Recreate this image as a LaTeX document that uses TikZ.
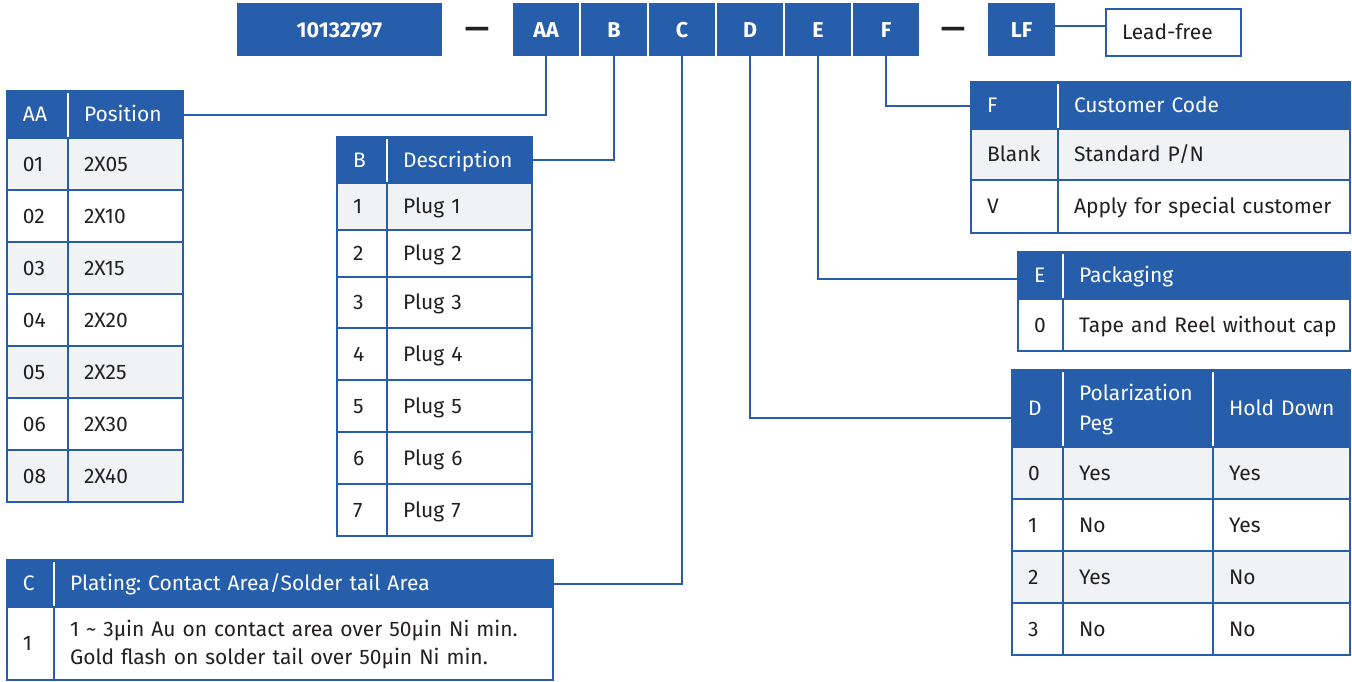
\documentclass[tikz,border=0pt]{standalone}
\usepackage{fontspec}
\setmainfont{Fira Sans}
\usepackage{tikz}
\usetikzlibrary{positioning}
\definecolor{pnblue}{RGB}{38,94,171}
\definecolor{rowgray}{RGB}{241,242,244}
\definecolor{inkgray}{RGB}{35,31,32}
\newcommand{\tabfont}{\fontsize{21}{28}\selectfont\frenchspacing}
\newcommand{\codefont}{\fontsize{21.5}{24}\selectfont\bfseries}

\begin{document}
\begin{tikzpicture}[
    x=1pt, y=-1pt,
    cell/.style={draw=pnblue, line width=2pt, anchor=north west, outer sep=0pt,
                 inner xsep=16pt, inner ysep=0pt, align=left, font=\tabfont,
                 text=inkgray, text height=14.5pt, text depth=0pt},
    head/.style={cell, fill=pnblue, text=white},
    sz/.code 2 args={\pgfmathsetlengthmacro\cellw{#1-32}%
        \edef\cellnext{\noexpand\pgfkeysalso{text width=\cellw, minimum height=#2pt}}\cellnext},
    codebox/.style={fill=pnblue, text=white, font=\codefont, anchor=north west,
                    outer sep=0pt, inner sep=0pt, minimum width=66pt, minimum height=53pt,
                    text height=15pt, text depth=0pt},
    dashmark/.style={font=\fontsize{30}{30}\selectfont\bfseries, text=inkgray,
                     inner sep=0pt, anchor=base},
    sep/.style={draw=white, line width=2pt},
    link/.style={draw=pnblue, line width=2pt}
]
    \useasboundingbox (0,0) rectangle (1352,681);

    % part number bar
    \node[codebox, minimum width=205pt] (pn) at (237,3) {10132797};
    \node[dashmark] (dashA) at (477,38.5) {—};
    \node[codebox] (aa) at (513,3) {AA};
    \node[codebox, right=2pt of aa] (b) {B};
    \node[codebox, right=2pt of b] (c) {C};
    \node[codebox, right=2pt of c] (d) {D};
    \node[codebox, right=2pt of d] (e) {E};
    \node[codebox, right=2pt of e] (f) {F};
    \node[dashmark] (dashB) at (953,38.5) {—};
    \node[codebox, minimum width=67pt] (lf) at (988,3) {LF};
    \node[cell, sz={135}{47}] (leadfree) at (1106,9) {\mbox{Lead-free}};

    % AA: position
    \node[head, sz={61}{47}] (aaCode) at (7,91) {AA};
    \node[head, sz={115}{47}] (aaName) at (68,91) {\mbox{Position}};
    \draw[sep] ([yshift=-2pt]aaName.north west) -- (aaName.south west);
    \foreach \code/\pos/\shade [count=\i from 0] in {01/2X05/rowgray, 02/2X10/white,
        03/2X15/rowgray, 04/2X20/white, 05/2X25/rowgray, 06/2X30/white, 08/2X40/rowgray}{
        \node[cell, fill=\shade, sz={61}{52}] (aa\code) at (7,{138+52*\i}) {\code};
        \node[cell, fill=\shade, sz={115}{52}] (aaPos\code) at (68,{138+52*\i}) {\pos};
    }

    % B: description
    \node[head, sz={50}{46}] (bCode) at (337,137) {B};
    \node[head, sz={145}{46}] (bName) at (387,137) {\mbox{Description}};
    \draw[sep] ([yshift=-2pt]bName.north west) -- (bName.south west);
    \foreach \n/\y/\h/\shade in {1/183/47/rowgray, 2/230/47/white, 3/277/51/white,
        4/328/52/white, 5/380/52/white, 6/432/52/white, 7/484/52/white}{
        \node[cell, fill=\shade, sz={50}{\h}] (b\n) at (337,\y) {\n};
        \node[cell, fill=\shade, sz={145}{\h}] (bPlug\n) at (387,\y) {Plug \n};
    }

    % C: plating
    \node[head, sz={47}{47}] (cCode) at (7,560) {C};
    \node[head, sz={499}{47}] (cName) at (54,560) {\mbox{Plating: Contact Area/Solder tail Area}};
    \draw[sep] ([yshift=-2pt]cName.north west) -- (cName.south west);
    \node[cell, sz={47}{73}] (c1) at (7,607) {1};
    \node[cell, sz={499}{73}, text depth=28pt] (cText1) at (54,607)
        {\mbox{1 \textasciitilde{} 3µin Au on contact area over 50µin Ni min.}\\
         \mbox{Gold flash on solder tail over 50µin Ni min.}};

    % F: customer code
    \node[head, sz={87}{47}] (fCode) at (971,82) {F};
    \node[head, sz={292}{47}] (fName) at (1058,82) {\mbox{Customer Code}};
    \draw[sep] ([yshift=-2pt]fName.north west) -- (fName.south west);
    \node[cell, fill=rowgray, sz={87}{51}] (fBlank) at (971,129) {\mbox{Blank}};
    \node[cell, fill=rowgray, sz={292}{51}] (fStd) at (1058,129) {\mbox{Standard P/N}};
    \node[cell, sz={87}{53}] (fV) at (971,180) {V};
    \node[cell, sz={292}{53}] (fSpecial) at (1058,180) {\mbox{Apply for special customer}};

    % E: packaging
    \node[head, sz={45}{47}] (eCode) at (1018,252) {E};
    \node[head, sz={287}{47}] (eName) at (1063,252) {\mbox{Packaging}};
    \draw[sep] ([yshift=-2pt]eName.north west) -- (eName.south west);
    \node[cell, sz={45}{52}] (e0) at (1018,299) {0};
    \node[cell, sz={287}{52}] (eTape) at (1063,299) {\mbox{Tape and Reel without cap}};

    % D: polarization peg / hold down
    \node[head, sz={51}{77}] (dCode) at (1012,370) {D};
    \node[head, sz={150}{77}, text depth=30pt] (dPeg) at (1063,370)
        {\mbox{Polarization}\\[2pt]Peg};
    \node[head, sz={137}{77}] (dHold) at (1213,370) {\mbox{Hold Down}};
    \draw[sep] ([yshift=-2pt]dPeg.north west) -- (dPeg.south west);
    \draw[sep] ([yshift=-2pt]dHold.north west) -- (dHold.south west);
    \foreach \n/\peg/\hold/\shade [count=\i from 0] in {0/Yes/Yes/rowgray,
        1/No/Yes/white, 2/Yes/No/rowgray, 3/No/No/white}{
        \node[cell, fill=\shade, sz={51}{52}] (d\n) at (1012,{447+52*\i}) {\n};
        \node[cell, fill=\shade, sz={150}{52}] (dPeg\n) at (1063,{447+52*\i}) {\peg};
        \node[cell, fill=\shade, sz={137}{52}] (dHold\n) at (1213,{447+52*\i}) {\hold};
    }

    % connectors
    \draw[link] (aa.south) |- (aaName.east);
    \draw[link] (b.south) |- (bName.east);
    \draw[link] (c.south) |- (cName.east);
    \draw[link] (d.south) |- ([yshift=-9pt]dCode.west);
    \draw[link] (e.south) |- ([yshift=-3pt]eCode.west);
    \draw[link] (f.south) |- (fCode.west);
    \draw[link] ([yshift=4pt]lf.east) -- ([yshift=4pt]lf.east -| leadfree.west);
\end{tikzpicture}
\end{document}
